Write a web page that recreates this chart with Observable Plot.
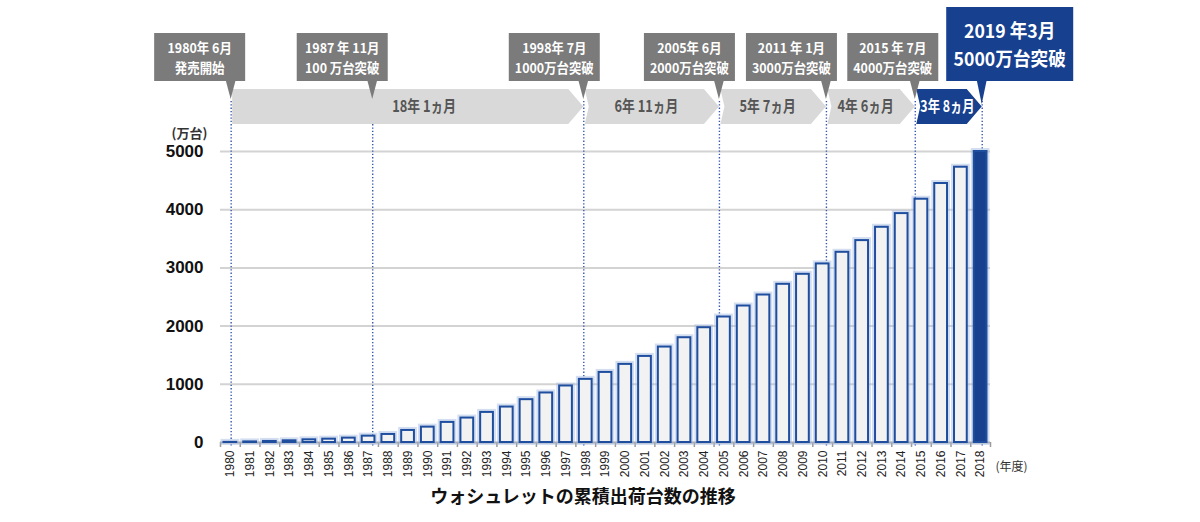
<!DOCTYPE html>
<html><head><meta charset="utf-8">
<script src="https://cdn.jsdelivr.net/npm/d3@7"></script>
<script src="https://cdn.jsdelivr.net/npm/@observablehq/plot@0.6"></script>
<style>
html,body{margin:0;padding:0;background:#fff;}
#chart svg{display:block;overflow:visible}
#title{width:1200px;height:44px;line-height:34px;text-align:center;font-family:"Noto Sans CJK JP",sans-serif;font-weight:700;font-size:18px;color:#111;}
#title span{position:relative;left:-17px}
</style></head>
<body><div id="chart"></div><div id="title"><span id="tt"></span></div>
<script>
// ---- data ----
const years = [1980,1981,1982,1983,1984,1985,1986,1987,1988,1989,1990,1991,1992,1993,1994,1995,1996,1997,1998,1999,2000,2001,2002,2003,2004,2005,2006,2007,2008,2009,2010,2011,2012,2013,2014,2015,2016,2017,2018];
const shipments = [2,10,18,29,46,57,75,109,138,207,264,345,420,517,609,736,851,971,1085,1204,1342,1479,1640,1800,1972,2156,2345,2534,2718,2890,3068,3268,3469,3698,3933,4180,4450,4730,5000];
const highlightYear = 2018;
const yTicks = [0,1000,2000,3000,4000,5000];
const milestoneDate = ["1980年 6月","1987 年 11月","1998年 7月","2005年 6月","2011 年 1月","2015 年 7月","2019 年3月"];
const milestoneText = ["発売開始","100 万台突破","1000万台突破","2000万台突破","3000万台突破","4000万台突破","5000万台突破"];
const milestonePos = [1980.54,1987.71,1998.40,2005.27,2010.69,2015.19,2018.58];
const intervalText = ["18年 1ヵ月","6年 11ヵ月","5年 7ヵ月","4年 6ヵ月","3年 8ヵ月"];
const intervalFrom = [0,2,3,4,5];   // milestone index where each interval starts
const intervalTo = [2,3,4,5,6];     // milestone index where each interval ends
const unitLabel = "(万台)";
const yearLabel = "(年度)";
const titleText = "ウォシュレットの累積出荷台数の推移";

// ---- styling / layout ----
const BLUE = "#17408f", BAR_STROKE = "#1f4e9f", GRAY_BOX = "#7b7b7b", BAND = "#d9d9d9";
const JP = '"Noto Sans CJK JP", sans-serif';
const NARROW = '"Liberation Sans Narrow", "Arial Narrow", "Liberation Sans", sans-serif';
const boxShift = [-31,-30,-29,-29.5,-34.5,-22,28];
const textShift = [24,0,0,0,4];

const data = years.map((year,i)=>({year, value: shipments[i], fill: year===highlightYear ? BLUE : "#f2f2f2"}));
const yearCenters = years.map(y=>y+0.5);
const boundaries = [...years, years[years.length-1]+1];

function annotations(index, scales) {
  const x = scales.x;
  const px = milestonePos.map(d=>x(d));
  const g = d3.create("svg:g").attr("font-family", JP).attr("font-weight", 700);
  const top=89, bot=124, mid=106.5, head=15, notch=4;
  const bandTexts = [];
  intervalText.forEach((t,i)=>{
    const a = px[intervalFrom[i]]+1.5, b = px[intervalTo[i]];
    const last = i===intervalText.length-1;
    const pts = i===0
      ? [[a,top],[b-head,top],[b,mid],[b-head,bot],[a,bot]]
      : [[a,top],[b-head,top],[b,mid],[b-head,bot],[a,bot],[a+notch,mid]];
    g.append("polygon").attr("points", pts.map(p=>p.join(",")).join(" ")).attr("fill", last?BLUE:BAND);
    const cx = ((i===0?a:a+notch)+(b-head))/2 + textShift[i];
    bandTexts.push({t, cx, last});
  });
  milestoneDate.forEach((t,i)=>{
    const last = i===milestoneDate.length-1;
    const w = last?127:91, y0 = last?7:33, y1 = 81;
    const cx = px[i]+boxShift[i];
    const color = last?BLUE:GRAY_BOX;
    g.append("rect").attr("x",cx-w/2).attr("y",y0).attr("width",w).attr("height",y1-y0).attr("fill",color);
    const tipY = last?104:99;
    g.append("polygon").attr("points",`${px[i]-5},${y1-1} ${px[i]+5},${y1-1} ${px[i]},${tipY}`).attr("fill",color);
    const fs = last?19:13.5, l1 = last?31:48.5, l2 = last?59:68.5, sx = last?0.93:0.92;
    [[t,l1],[milestoneText[i],l2]].forEach(([s,yy])=>{
      g.append("text").attr("transform",`translate(${cx},${yy}) scale(${sx},1)`)
        .attr("text-anchor","middle").attr("dy","0.36em").attr("font-size",fs)
        .attr("fill","#fff").text(s);
    });
  });
  bandTexts.forEach(({t,cx,last})=>{
    g.append("text").attr("transform",`translate(${cx},${mid}) scale(${last?0.77:0.8},1)`)
      .attr("text-anchor","middle").attr("dy","0.36em").attr("font-size",16)
      .attr("fill", last?"#fff":"#555").text(t);
  });
  return g.node();
}

const chart = Plot.plot({
  width: 1200, height: 478,
  marginTop: 151, marginBottom: 36, marginLeft: 220, marginRight: 210,
  x: {type: "linear", domain: [1980, 2019]},
  y: {domain: [0, 5000]},
  color: {type: "identity"},
  style: {fontFamily: JP, background: "#fff", overflow: "visible"},
  marks: [
    Plot.gridY(yTicks.filter(d=>d>0), {stroke: "#d3d3d3", strokeOpacity: 1, strokeWidth: 2}),
    Plot.axisY(yTicks, {tickSize: 0, tickPadding: 17, tickFormat: d => String(d), fontSize: 17, fontWeight: 700, label: null, fill: "#111", fontFamily: '"Liberation Sans", Arial, sans-serif'}),
    Plot.text([unitLabel], {frameAnchor: "top-left", dx: -31, dy: -23, textAnchor: "middle", fontSize: 13, fontWeight: 700, fill: "#333"}),
    Plot.axisX(boundaries, {tickSize: 5, tickFormat: () => "", stroke: "#9a9a9a", strokeWidth: 1.5, label: null}),
    Plot.ruleY([0], {stroke: "#a8a8a8", strokeWidth: 2}),
    Plot.ruleX(milestonePos, {stroke: "#3556ad", strokeWidth: 1.4, strokeDasharray: "1.3,2", insetTop: -50, insetBottom: -4}),
    Plot.rectY(data, {x: "year", interval: 1, y: "value", insetLeft: 3.5, insetRight: 3.5, fill: "none", stroke: "#9fb5e0", strokeWidth: 6, strokeOpacity: 0.45}),
    Plot.rectY(data, {x: "year", interval: 1, y: "value", insetLeft: 3.5, insetRight: 3.5, fill: "fill", stroke: BAR_STROKE, strokeWidth: 2}),
    Plot.axisX(yearCenters, {tickSize: 0, tickPadding: 8, tickRotate: -90, tickFormat: d => String(Math.floor(d)), fontSize: 12, label: null, fill: "#222", fontFamily: NARROW}),
    Plot.text([yearLabel], {frameAnchor: "bottom-right", dx: 5, dy: 28, textAnchor: "start", fontSize: 12, fill: "#333"}),
    annotations
  ]
});
document.getElementById("chart").appendChild(chart);
document.getElementById("tt").textContent = titleText;
</script>
</body></html>
